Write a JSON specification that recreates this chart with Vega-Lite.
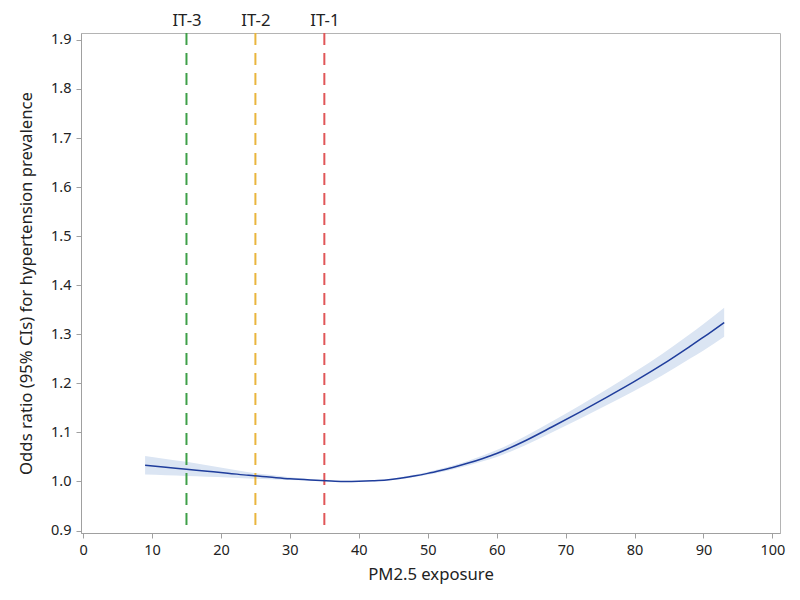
{
  "$schema": "https://vega.github.io/schema/vega-lite/v6.json",
  "width": 699,
  "height": 500,
  "autosize": {"type": "none"},
  "padding": {"left": 81, "top": 33, "right": 20, "bottom": 67},
  "background": "white",
  "config": {
    "font": "Noto Sans",
    "view": {"stroke": "#b4b4b4", "strokeWidth": 1},
    "axis": {
      "grid": false,
      "domainColor": "#a0a0a0",
      "tickColor": "#a0a0a0",
      "labelColor": "#222222",
      "titleColor": "#222222",
      "labelFontSize": 14.5,
      "titleFontSize": 16.7,
      "titleFontWeight": "normal",
      "tickSize": 5
    }
  },
  "datasets": {
    "curve": [
      {"x": 9, "or": 1.033, "lo": 1.014, "hi": 1.052},
      {"x": 12, "or": 1.029, "lo": 1.0125, "hi": 1.046},
      {"x": 15, "or": 1.025, "lo": 1.011, "hi": 1.040},
      {"x": 18, "or": 1.021, "lo": 1.0095, "hi": 1.033},
      {"x": 21, "or": 1.017, "lo": 1.008, "hi": 1.026},
      {"x": 24, "or": 1.0125, "lo": 1.006, "hi": 1.019},
      {"x": 27, "or": 1.009, "lo": 1.0045, "hi": 1.0135},
      {"x": 30, "or": 1.0055, "lo": 1.0028, "hi": 1.0085},
      {"x": 33, "or": 1.003, "lo": 1.0015, "hi": 1.0045},
      {"x": 36, "or": 1.001, "lo": 1.0004, "hi": 1.0016},
      {"x": 38, "or": 1.0, "lo": 1.0, "hi": 1.0},
      {"x": 40, "or": 1.0004, "lo": 1.0002, "hi": 1.0006},
      {"x": 42, "or": 1.0015, "lo": 1.001, "hi": 1.002},
      {"x": 44, "or": 1.0032, "lo": 1.0022, "hi": 1.0042},
      {"x": 46, "or": 1.0065, "lo": 1.0045, "hi": 1.0085},
      {"x": 48, "or": 1.011, "lo": 1.0085, "hi": 1.0135},
      {"x": 50, "or": 1.0165, "lo": 1.0135, "hi": 1.0195},
      {"x": 52, "or": 1.023, "lo": 1.0195, "hi": 1.0265},
      {"x": 54, "or": 1.030, "lo": 1.026, "hi": 1.034},
      {"x": 56, "or": 1.038, "lo": 1.033, "hi": 1.043},
      {"x": 58, "or": 1.047, "lo": 1.041, "hi": 1.053},
      {"x": 60, "or": 1.057, "lo": 1.050, "hi": 1.064},
      {"x": 64, "or": 1.082, "lo": 1.073, "hi": 1.091},
      {"x": 68, "or": 1.111, "lo": 1.100, "hi": 1.122},
      {"x": 72, "or": 1.141, "lo": 1.1275, "hi": 1.1545},
      {"x": 76, "or": 1.172, "lo": 1.156, "hi": 1.188},
      {"x": 80, "or": 1.204, "lo": 1.185, "hi": 1.223},
      {"x": 84, "or": 1.238, "lo": 1.216, "hi": 1.260},
      {"x": 88, "or": 1.275, "lo": 1.250, "hi": 1.300},
      {"x": 90, "or": 1.294, "lo": 1.267, "hi": 1.321},
      {"x": 93, "or": 1.324, "lo": 1.295, "hi": 1.354}
    ],
    "guides": [
      {"x": 15, "label": "IT-3"},
      {"x": 25, "label": "IT-2"},
      {"x": 35, "label": "IT-1"}
    ]
  },
  "resolve": {"axis": {"x": "independent"}},
  "layer": [
    {
      "data": {"name": "curve"},
      "mark": {"type": "area", "color": "#dbe5f3", "opacity": 1, "interpolate": "monotone"},
      "encoding": {
        "x": {
          "field": "x", "type": "quantitative",
          "scale": {"domain": [-0.3, 101.1], "nice": false, "zero": false},
          "axis": {
            "title": "PM2.5 exposure",
            "values": [0, 10, 20, 30, 40, 50, 60, 70, 80, 90, 100],
            "labelPadding": 5,
            "titlePadding": 10,
            "labelFlush": false
          }
        },
        "y": {
          "field": "lo", "type": "quantitative",
          "scale": {"domain": [0.895, 1.914], "nice": false, "zero": false},
          "axis": {
            "title": "Odds ratio (95% CIs) for hypertension prevalence",
            "values": [0.9, 1.0, 1.1, 1.2, 1.3, 1.4, 1.5, 1.6, 1.7, 1.8, 1.9],
            "format": ".1f",
            "labelPadding": 5,
            "titlePadding": 15,
            "labelFlush": false
          }
        },
        "y2": {"field": "hi"}
      }
    },
    {
      "mark": {"type": "rule", "color": "#8c8c8c", "strokeWidth": 1.2, "strokeDash": [9, 7]},
      "encoding": {"y": {"datum": 1.0}}
    },
    {
      "data": {"name": "guides"},
      "mark": {"type": "rule", "strokeWidth": 2, "strokeDash": [12, 8]},
      "encoding": {
        "x": {
          "field": "x", "type": "quantitative",
          "axis": {
            "orient": "top",
            "values": [15, 25, 35],
            "labelExpr": "datum.value == 15 ? 'IT-3' : datum.value == 25 ? 'IT-2' : 'IT-1'",
            "domain": false,
            "ticks": false,
            "labelPadding": 4,
            "labelFontSize": 16.7,
            "title": null
          }
        },
        "color": {
          "field": "label", "type": "nominal",
          "scale": {"domain": ["IT-3", "IT-2", "IT-1"], "range": ["#3e9f48", "#e9b53d", "#e05658"]},
          "legend": null
        }
      }
    },
    {
      "data": {"name": "curve"},
      "mark": {"type": "line", "color": "#1f3d9c", "strokeWidth": 1.5, "interpolate": "monotone"},
      "encoding": {
        "x": {"field": "x", "type": "quantitative", "axis": null},
        "y": {"field": "or", "type": "quantitative"}
      }
    }
  ]
}
